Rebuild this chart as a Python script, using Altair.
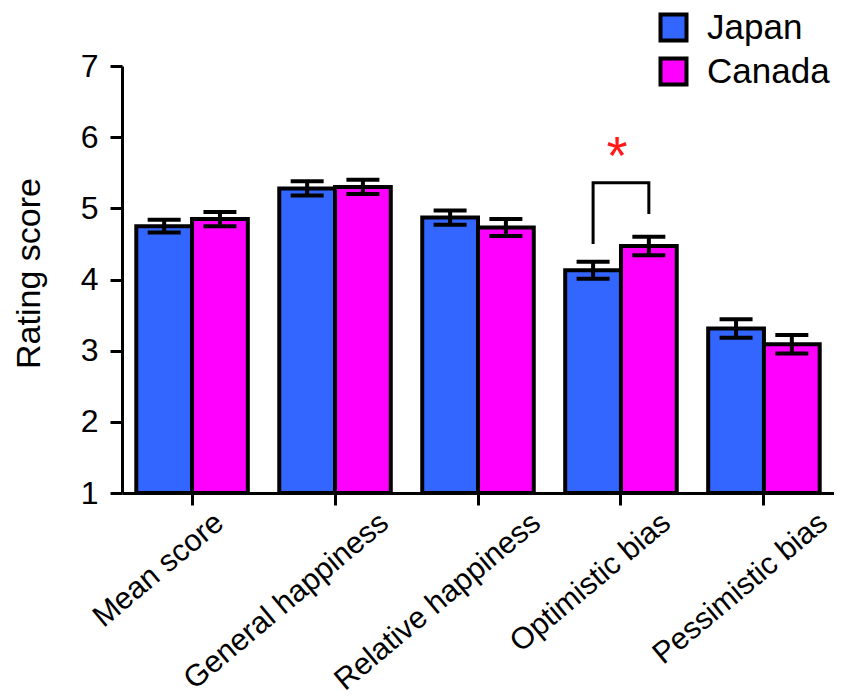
import altair as alt
import pandas as pd

categories = ["Mean score", "General happiness", "Relative happiness", "Optimistic bias", "Pessimistic bias"]
countries = ["Japan", "Canada"]
japan = [4.75, 5.28, 4.87, 4.13, 3.31]
canada = [4.85, 5.30, 4.73, 4.47, 3.09]
japan_err = [0.09, 0.10, 0.10, 0.12, 0.13]
canada_err = [0.10, 0.10, 0.12, 0.13, 0.13]
colors = ["#3366FF", "#FF00FF"]

# significance bracket (Optimistic bias: Japan vs Canada)
bracket_cat = "Optimistic bias"
bracket_country = ["Japan", "Japan", "Canada", "Canada"]
bracket_y = [4.50, 5.36, 5.36, 4.92]
star_y = [5.48]

rows = []
for c, j, cv, je, ce in zip(categories, japan, canada, japan_err, canada_err):
    rows.append(dict(category=c, country="Japan", value=j, lo=j - je, hi=j + je))
    rows.append(dict(category=c, country="Canada", value=cv, lo=cv - ce, hi=cv + ce))
df = pd.DataFrame(rows)

bdf = pd.DataFrame(dict(category=[bracket_cat] * 4, country=bracket_country,
                        y=bracket_y, order=[0, 1, 2, 3]))
sdf = pd.DataFrame(dict(category=[bracket_cat], y=star_y, t=["*"]))

FONT = "Liberation Sans"
ysc = alt.Scale(domain=[1, 7], nice=False, zero=False)
xsc = alt.Scale(domain=categories, paddingInner=0.22, paddingOuter=0.1)
xosc = alt.Scale(domain=countries, paddingInner=0, paddingOuter=0)

label_offsets = [18, 40, 49, 36, 50]
cond = [{"test": f"datum.value == '{c}'", "value": o} for c, o in zip(categories[:-1], label_offsets[:-1])]

xaxis = alt.Axis(title=None, labelAngle=-40, labelAlign="right", labelBaseline="top",
                 labelFont=FONT, labelFontSize=30.5, labelColor="black", labelPadding=2,
                 labelLimit=0,
                 labelOffset={"condition": cond, "value": label_offsets[-1]},
                 tickSize=12, tickWidth=3, tickColor="black", domainWidth=3, domainColor="black",
                 grid=False)
yaxis = alt.Axis(values=[1, 2, 3, 4, 5, 6, 7], format="d", title="Rating score", titleFont=FONT,
                 titleFontSize=34, titleFontWeight="normal", titleColor="black", titlePadding=34,
                 titleY=207,
                 labelFont=FONT, labelFontSize=32, labelColor="black", labelPadding=12,
                 tickSize=12, tickWidth=3, tickColor="black", domainWidth=3, domainColor="black",
                 grid=False)

X = alt.X("category:N", scale=xsc, axis=xaxis, sort=categories)
XO = alt.XOffset("country:N", scale=xosc, sort=countries)

bars = alt.Chart(df).mark_bar(stroke="black", strokeWidth=4, strokeJoin="miter").encode(
    x=X, xOffset=XO,
    y=alt.Y("value:Q", scale=ysc, axis=yaxis),
    y2=alt.datum(1),
    color=alt.Color("country:N", scale=alt.Scale(domain=countries, range=colors), sort=countries,
                    legend=alt.Legend(orient="none", legendX=534, legendY=-56, title=None,
                                      symbolType="square", symbolSize=676,
                                      symbolStrokeColor="black", symbolStrokeWidth=4,
                                      symbolOpacity=1, labelFont=FONT, labelFontSize=35,
                                      labelColor="black", labelOffset=16, rowPadding=1)),
)

errs = alt.Chart(df).mark_rule(color="black", strokeWidth=4).encode(
    x=X, xOffset=XO, y=alt.Y("lo:Q", scale=ysc), y2="hi:Q")
caps_hi = alt.Chart(df).mark_tick(color="black", size=33, thickness=4, opacity=1).encode(
    x=X, xOffset=XO, y=alt.Y("hi:Q", scale=ysc))
caps_lo = alt.Chart(df).mark_tick(color="black", size=33, thickness=4, opacity=1).encode(
    x=X, xOffset=XO, y=alt.Y("lo:Q", scale=ysc))

bracket = alt.Chart(bdf).mark_line(color="black", strokeWidth=3, strokeJoin="miter",
                                   xOffset=-6).encode(
    x=X, xOffset=XO, y=alt.Y("y:Q", scale=ysc), order="order:Q")

star = alt.Chart(sdf).mark_text(color="#FF1A1A", fontSize=54, font=FONT, baseline="alphabetic",
                                align="center", dx=-4).encode(
    x=X, y=alt.Y("y:Q", scale=ysc), text="t:N")

chart = alt.layer(bars, errs, caps_hi, caps_lo, bracket, star).properties(
    width=712, height=427,
    autosize=alt.AutoSizeParams(type="none"),
    padding={"left": 114, "top": 58, "right": 0, "bottom": 203},
    background="white",
).configure_view(stroke=None)

chart.save("out.html", embed_options={"renderer": "svg", "actions": False})
